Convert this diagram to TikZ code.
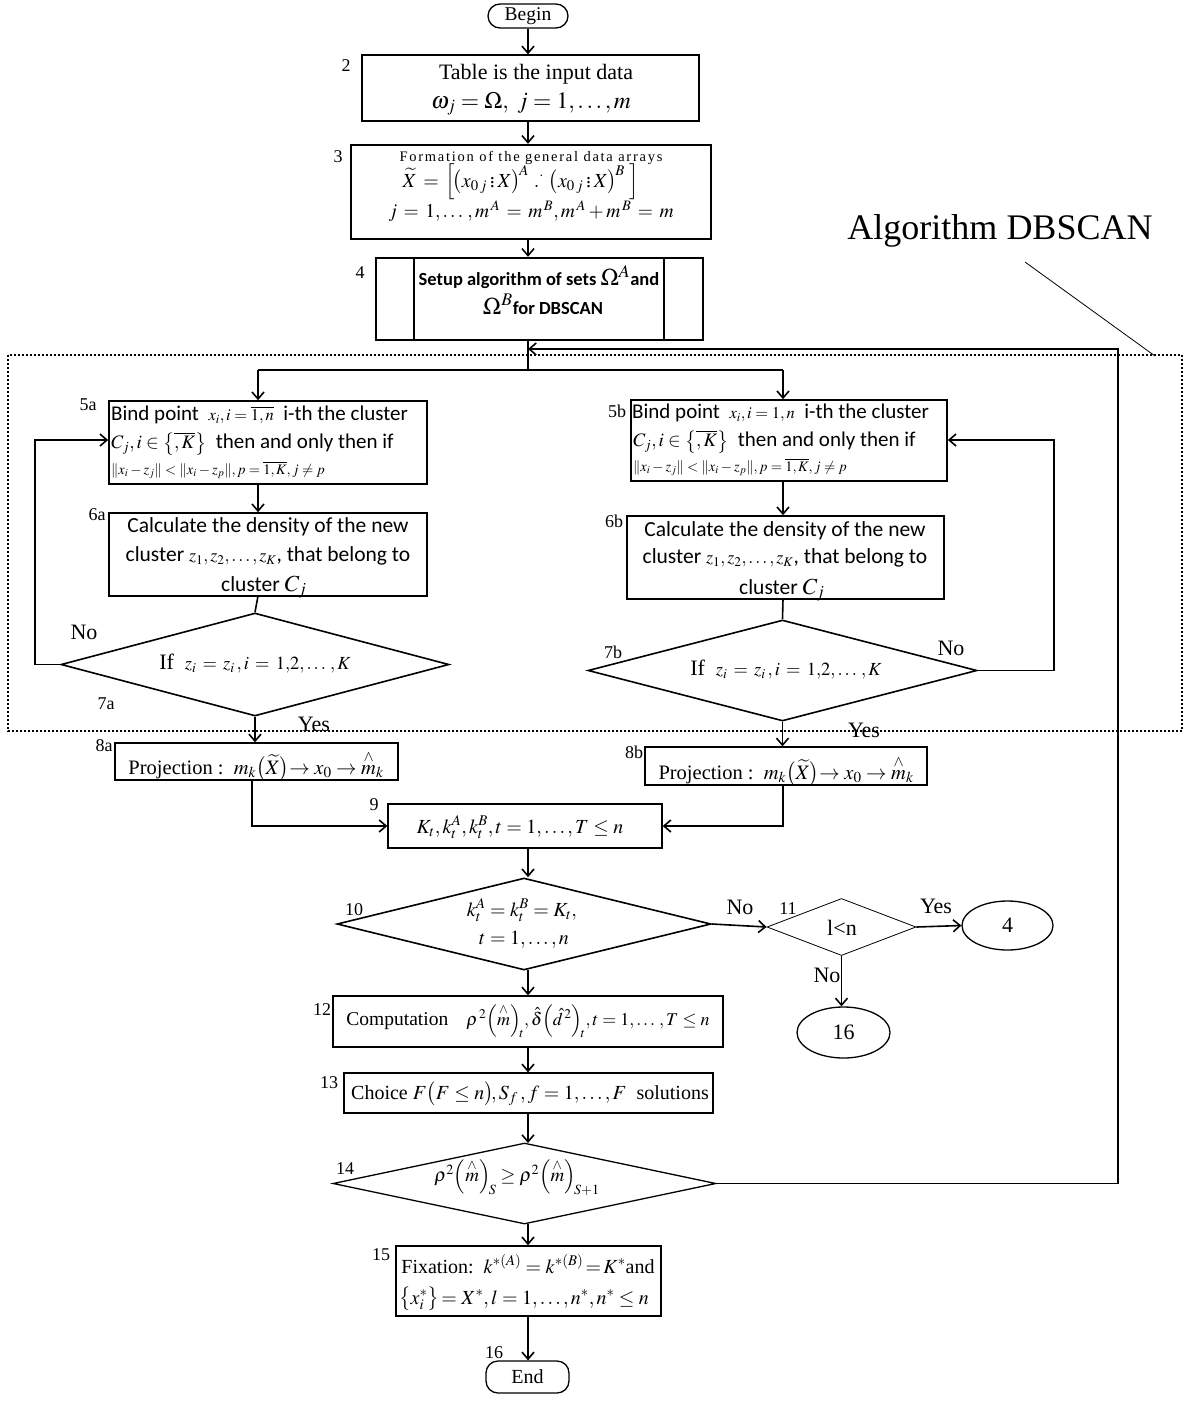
\documentclass[tikz,border=0pt]{standalone}
\usepackage{amsmath,amssymb}
\usepackage{mathptmx}
\usepackage{fontspec}
\setmainfont{Liberation Serif}
\newfontfamily\carl{Carlito}
\usetikzlibrary{shapes.geometric,arrows.meta,calc}
\newcommand{\fs}[1]{\fontsize{#1}{#1}\selectfont}
\newcommand{\hatm}{\overset{\wedge}{m}}
\begin{document}
\begin{tikzpicture}[x=1pt,y=-1pt,
  box/.style={draw,line width=1.3pt,inner sep=0pt},
  tbox/.style={draw,line width=2.4pt,inner sep=0pt},
  dia/.style={draw,diamond,line width=1.6pt,inner sep=0pt},
  arr/.style={line width=1.6pt,-{Straight Barb[length=7pt,width=12pt,line width=1.6pt]}},
  ln/.style={line width=1.6pt},
  lbl/.style={inner sep=0pt,font=\fs{18}},
  yn/.style={inner sep=0pt,font=\fs{22}},
  txt/.style={inner sep=0pt,font=\fs{22}},
  stxt/.style={inner sep=0pt,font=\carl\fs{21}},
  term/.style={draw,line width=1.3pt,rounded corners=12pt,inner sep=0pt}]
\useasboundingbox (0,0) rectangle (1189,1403);

% ---- shapes
\node[term,minimum width=80pt,minimum height=24pt] (begin) at (528,16) {};
\node[txt,font=\fs{19.5}] at (begin) {Begin};
\node[box,minimum width=337pt,minimum height=66pt] (b2) at (530.5,88) {};
\node[tbox,minimum width=360pt,minimum height=94pt] (b3) at (531,192) {};
\node[tbox,minimum width=327pt,minimum height=82pt] (b4) at (539.5,299) {};
\draw[line width=2.4pt] ([xshift=39pt]b4.north west) -- ([xshift=39pt]b4.south west);
\draw[line width=2.4pt] ([xshift=-40pt]b4.north east) -- ([xshift=-40pt]b4.south east);

\draw[line width=2pt,dash pattern=on 2pt off 2pt] (8,355) rectangle (1182,731);

\node[box,line width=1.6pt,minimum width=318pt,minimum height=83pt] (b5a) at (268,442.5) {};
\node[box,line width=1.6pt,minimum width=316pt,minimum height=81pt] (b5b) at (789,440.5) {};
\node[box,line width=1.6pt,minimum width=318pt,minimum height=83pt] (b6a) at (268,554.5) {};
\node[box,line width=1.6pt,minimum width=317pt,minimum height=83pt] (b6b) at (785.5,557.5) {};
\node[dia,minimum width=388pt,minimum height=103pt] (d7a) at (255,664.5) {};
\node[dia,minimum width=389pt,minimum height=101pt] (d7b) at (782.5,670.5) {};
\node[box,minimum width=283pt,minimum height=37pt] (b8a) at (256.5,761.5) {};
\node[box,minimum width=282pt,minimum height=38pt] (b8b) at (786,766) {};
\node[box,minimum width=274pt,minimum height=44pt] (b9) at (525,826) {};
\node[dia,minimum width=374pt,minimum height=92pt] (d10) at (524,924) {};
\node[draw,diamond,line width=0.8pt,inner sep=0pt,minimum width=149pt,minimum height=57pt] (d11) at (841.5,927) {};
\node[draw,ellipse,line width=1.3pt,inner sep=0pt,minimum width=91pt,minimum height=49pt] (e4) at (1007.5,925.5) {};
\node[draw,ellipse,line width=1.3pt,inner sep=0pt,minimum width=93pt,minimum height=51pt] (e16) at (843.5,1032.5) {};
\node[box,minimum width=390pt,minimum height=51pt] (b12) at (528,1021.5) {};
\node[box,minimum width=369pt,minimum height=40pt] (b13) at (528.5,1093) {};
\node[draw,diamond,line width=1.3pt,inner sep=0pt,minimum width=383pt,minimum height=81pt] (d14) at (524.5,1183.5) {};
\node[box,line width=1.6pt,minimum width=265pt,minimum height=70pt] (b15) at (528.5,1281) {};
\node[term,minimum width=83pt,minimum height=32pt] (end) at (527.5,1377) {};
\node[txt,font=\fs{20}] at (end) {End};

% ---- texts
\node[txt] at (536,74) {Table is the input data};
\node[txt,font=\fs{23.5}] at (531,104) {$\omega_j = \Omega,\ j = 1,\ldots,m$};
\node[inner sep=0pt,font=\fs{14.5}\addfontfeatures{LetterSpace=12}] at (531,158) {Formation of the general data arrays};
\node[txt,font=\fs{20}] at (521,182) {$\widetilde{X} \,=\, \Big[\!\big(x_{0\,j} \mathbin{\vdots} X\big)^{\!A}\ .^{\cdot}\ \big(x_{0\,j} \mathbin{\vdots} X\big)^{\!B}\ \Big]$};
\node[txt,font=\fs{19.5}] at (531,211) {$j \,=\, 1,\ldots\,, m^{\,A} \,=\, m^{\,B}, m^{\,A} + m^{\,B} \,=\, m$};
\node[inner sep=0pt,font=\carl\bfseries\fs{18.5}] at (539,277) {Setup algorithm of sets \fs{24}$\Omega^A$\fs{18.5}and};
\node[inner sep=0pt,font=\carl\bfseries\fs{18.5}] at (543,304) {\fs{24}$\Omega^B$\fs{18.5}for DBSCAN};

\node[stxt,anchor=west] at (111,415) {Bind point\ \ {\fs{16.5}$x_i, i=\overline{1,n}$}\ \ i-th the cluster};
\node[stxt,anchor=west] at (111,444) {{\fs{19}$C_j, i\in\big\{\overline{,K}\big\}$}\ \ then and only then if};
\node[stxt,anchor=west] at (111,470) {\fs{14.5}$\|x_i - z_j\| < \|x_i - z_p\|, p=\overline{1,K}, j\ne p$};
\node[stxt,anchor=west] at (632,413) {Bind point\ \ {\fs{16.5}$x_i, i=1,n$}\ \ i-th the cluster};
\node[stxt,anchor=west] at (633,442) {{\fs{19}$C_j, i\in\big\{\overline{,K}\big\}$}\ \ then and only then if};
\node[stxt,anchor=west] at (633,467) {\fs{14.5}$\|x_i - z_j\| < \|x_i - z_p\|, p=\overline{1,K}, j\ne p$};

\node[stxt,font=\carl\fs{21.5}] at (268,527) {Calculate the density of the new};
\node[stxt,font=\carl\fs{21.5}] at (268,556) {cluster {\fs{18}$z_1,z_2,\ldots,z_K$}, that belong to};
\node[stxt,font=\carl\fs{21.5},anchor=west] at (221,587) {cluster {\fs{23}$C_j$}};
\node[stxt,font=\carl\fs{21.5}] at (785,531) {Calculate the density of the new};
\node[stxt,font=\carl\fs{21.5}] at (785,558) {cluster {\fs{18}$z_1,z_2,\ldots,z_K$}, that belong to};
\node[stxt,font=\carl\fs{21.5},anchor=west] at (739,590) {cluster {\fs{23}$C_j$}};

\node[txt] at (255,664) {If\ \ {\fs{18.5}$z_i \,=\, z_i\,, i \,=\, 1{,}2{,}\ldots\,, K$}};
\node[txt] at (786,670) {If\ \ {\fs{18.5}$z_i \,=\, z_i\,, i \,=\, 1{,}2{,}\ldots\,, K$}};

\node[txt,font=\fs{20.5}] at (256,766) {Projection :\ \ $m_k\big(\widetilde{X}\big)\!\!\to x_0 \to \hatm_k$};
\node[txt,font=\fs{20.5}] at (786,771) {Projection :\ \ $m_k\big(\widetilde{X}\big)\!\!\to x_0 \to \hatm_k$};
\node[txt,font=\fs{20}] at (520,827) {$K_t, k_t^A, k_t^B, t = 1,\ldots,T \le n$};
\node[txt,font=\fs{20}] at (522,910) {$k_t^A = k_t^B = K_t,$};
\node[txt,font=\fs{20}] at (524,940) {$t = 1,\ldots,n$};
\node[txt] at (842,928) {l<n};
\node[txt] at (1007.5,925.5) {4};
\node[txt] at (843.5,1032.5) {16};
\node[txt,font=\fs{18}] at (528,1021) {{\fs{19.5}Computation}\quad $\rho^{\,2}\Big(\hatm\Big)_{\!t}, \hat\delta\Big(\hat{d}^{\,2}\Big)_{\!t}, t = 1,\ldots\,, T \le n$};
\node[txt,font=\fs{20}] at (530,1094) {Choice $F\big(F\le n\big)\!, S_f\,, f = 1,\ldots,F$\ \ solutions};
\node[txt,font=\fs{19}] at (517,1178) {$\rho^2\Big(\hatm\Big)_{\!S} \ge \rho^2\Big(\hatm\Big)_{\!S+1}$};
\node[txt,font=\fs{20}] at (528,1264) {Fixation:\ \ $k^{*(A)} = k^{*(B)}\!=\!K^*$and};
\node[txt,font=\fs{20}] at (524,1299) {$\big\{x_i^*\big\}\!= X^*, l = 1,\ldots,n^*, n^* \le n$};

\node[inner sep=0pt,font=\fs{36}] (alg) at (1000,231) {Algorithm DBSCAN};
\coordinate (algA) at (1025,262);
\coordinate (algB) at (1155,356);
\draw[line width=0.8pt] (algA) -- (algB);

% ---- labels
\node[lbl] at (346,66) {2};
\node[lbl] at (338,157) {3};
\node[lbl] at (360,273) {4};
\node[lbl] at (88,405) {5a};
\node[lbl] at (617,411) {5b};
\node[lbl] at (97,515) {6a};
\node[lbl] at (614,521) {6b};
\node[lbl] at (106,704) {7a};
\node[lbl] at (613,652) {7b};
\node[lbl] at (104,746) {8a};
\node[lbl] at (634,752) {8b};
\node[lbl] at (374,805) {9};
\node[lbl] at (354,910) {10};
\node[lbl] at (788,909) {11};
\node[lbl] at (322,1010) {12};
\node[lbl] at (329,1083) {13};
\node[lbl] at (345,1169) {14};
\node[lbl] at (381,1255) {15};
\node[lbl] at (494,1353) {16};
\node[yn] at (84,632) {No};
\node[yn] at (314,724) {Yes};
\node[yn] at (951,648) {No};
\node[yn] at (864,730) {Yes};
\node[yn] at (740,907) {No};
\node[yn] at (936,906) {Yes};
\node[yn] at (827,975) {No};

% ---- connectors
\draw[arr] (begin.south) -- (begin.south |- b2.north);
\draw[arr] (528,121) coordinate (c2) -- (c2 |- b3.north);
\draw[arr] (528,239) coordinate (c3) -- (c3 |- b4.north);
\coordinate (split) at (528,370);
\coordinate (join) at (528,349);
\coordinate (la) at (258,370);
\coordinate (rb) at (783,370);
\draw[ln] (split |- b4.south) -- (split);
\draw[ln] (la) -- (rb);
\draw[arr] (la) -- (la |- b5a.north);
\draw[arr] (rb) -- (rb |- b5b.north);
\draw[arr] (258,484) coordinate (c5a) -- (c5a |- b6a.north);
\draw[arr] (783,481) coordinate (c5b) -- (c5b |- b6b.north);
\draw[ln] (258,596) coordinate (c6a) -- (d7a.north);
\draw[ln] (783,599) coordinate (c6b) -- (d7b.north);
\coordinate (loopA) at (35,440);
\draw[arr] (d7a.west) -- (loopA |- d7a.west) -- (loopA) -- (loopA -| b5a.west);
\coordinate (loopB) at (1054,440);
\draw[arr] (d7b.east) -- (loopB |- d7b.east) -- (loopB) -- (loopB -| b5b.east);
\draw[arr] (d7a.south) -- (d7a.south |- b8a.north);
\draw[arr] (d7b.south) -- (d7b.south |- b8b.north);
\coordinate (p8a) at (252,826);
\draw[arr] (p8a |- b8a.south) -- (p8a) -- (p8a -| b9.west);
\coordinate (p8b) at (783,826);
\draw[arr] (p8b |- b8b.south) -- (p8b) -- (p8b -| b9.east);
\draw[arr] (528,848) coordinate (c9) -- (c9 |- d10.north);
\draw[arr] (d10.east) -- (d11.west);
\draw[arr] (d11.east) -- (e4.west);
\draw[arr] (d11.south) -- (d11.south |- e16.north);
\draw[arr] (528,970) coordinate (c10) -- (c10 |- b12.north);
\draw[arr] (528,1047) coordinate (c12) -- (c12 |- b13.north);
\draw[arr] (528,1113) coordinate (c13) -- (528,1143);
\draw[arr] (528,1224) coordinate (c14) -- (c14 |- b15.north);
\draw[arr] (528,1316) coordinate (c15) -- (c15 |- end.north);
\coordinate (back) at (1118,349);
\draw[arr] (d14.east) -- (back |- d14.east) -- (back) -- (join);
\end{tikzpicture}
\end{document}
